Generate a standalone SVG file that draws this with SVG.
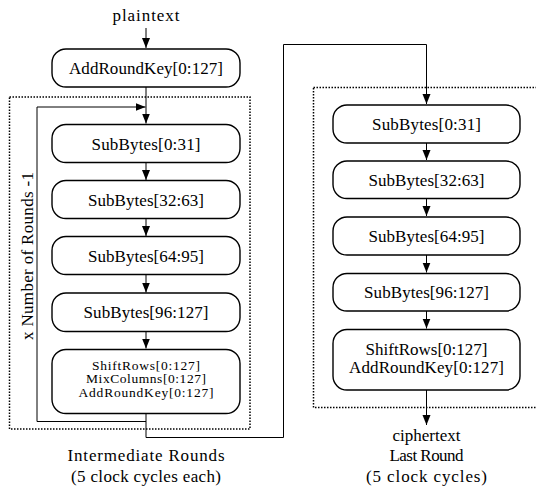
<svg xmlns="http://www.w3.org/2000/svg" width="536" height="487" viewBox="0 0 536 487">
<style>
.t{font-family:"Liberation Serif","Times New Roman",serif;font-size:17px;fill:#000;text-anchor:middle}
.s{font-size:13.5px}
.box{fill:#fff;stroke:#000;stroke-width:1.4}
.dot{fill:none;stroke:#000;stroke-width:1.5;stroke-dasharray:1.5 1.5}
.c{fill:none;stroke:#000;stroke-width:1}
</style>
<defs>
<marker id="ah" markerUnits="userSpaceOnUse" markerWidth="10" markerHeight="10" viewBox="0 0 10 10" refX="10" refY="5" orient="auto">
<path d="M0,1 L10,5 L0,9 Z" fill="#000"/>
</marker>
</defs>
<rect class="dot" x="9.5" y="97" width="240.5" height="332"/>
<rect class="dot" x="313.5" y="87.5" width="230" height="320"/>
<g id="connectors">
<path class="c" d="M146,28 V48" marker-end="url(#ah)"/>
<path class="c" d="M146,87 V123.5" marker-end="url(#ah)"/>
<path class="c" d="M146,421.5 H37 V107 H145.5" marker-end="url(#ah)"/>
<path class="c" d="M146,163 V180" marker-end="url(#ah)"/>
<path class="c" d="M146,219 V236" marker-end="url(#ah)"/>
<path class="c" d="M146,275 V292.5" marker-end="url(#ah)"/>
<path class="c" d="M146,332 V348.5" marker-end="url(#ah)"/>
<path class="c" d="M146,413.5 V437.5 H283.5 V44.5 H426.5 V104" marker-end="url(#ah)"/>
<path class="c" d="M426.5,143 V160" marker-end="url(#ah)"/>
<path class="c" d="M426.5,199 V216" marker-end="url(#ah)"/>
<path class="c" d="M426.5,255 V272.5" marker-end="url(#ah)"/>
<path class="c" d="M426.5,311 V328.5" marker-end="url(#ah)"/>
<path class="c" d="M426.5,390 V425" marker-end="url(#ah)"/>
</g>
<g id="plaintext"><text class="t" x="146" y="21" textLength="67">plaintext</text></g>
<g id="ark0"><rect class="box" x="52" y="49" width="188" height="38" rx="14"/><text class="t" x="146" y="74" textLength="154">AddRoundKey[0:127]</text></g>
<g id="l1"><rect class="box" x="52" y="124.5" width="188" height="38" rx="14"/><text class="t" x="146" y="149.5" textLength="109">SubBytes[0:31]</text></g>
<g id="l2"><rect class="box" x="52" y="180.5" width="188" height="38" rx="14"/><text class="t" x="146" y="205.5" textLength="116">SubBytes[32:63]</text></g>
<g id="l3"><rect class="box" x="52" y="236.5" width="188" height="38" rx="14"/><text class="t" x="146" y="261.5" textLength="116">SubBytes[64:95]</text></g>
<g id="l4"><rect class="box" x="52" y="293" width="188" height="38.5" rx="14"/><text class="t" x="146" y="318" textLength="125">SubBytes[96:127]</text></g>
<g id="l5"><rect class="box" x="52" y="349.5" width="188" height="64" rx="14"/><text class="t s" x="146" y="369.5" textLength="108">ShiftRows[0:127]</text><text class="t s" x="146" y="383" textLength="120">MixColumns[0:127]</text><text class="t s" x="146" y="396.5" textLength="135">AddRoundKey[0:127]</text></g>
<g id="rounds"><text class="t" transform="translate(32.5,256) rotate(-90)" textLength="168">x Number of Rounds -1</text></g>
<g id="cap1"><text class="t" x="146" y="460.5" textLength="157">Intermediate Rounds</text><text class="t" x="146" y="482" textLength="150">(5 clock cycles each)</text></g>
<g id="r1"><rect class="box" x="333" y="105" width="187" height="38" rx="14"/><text class="t" x="426.5" y="130" textLength="109">SubBytes[0:31]</text></g>
<g id="r2"><rect class="box" x="333" y="161" width="187" height="37.5" rx="14"/><text class="t" x="426.5" y="185.5" textLength="116">SubBytes[32:63]</text></g>
<g id="r3"><rect class="box" x="333" y="217" width="187" height="38" rx="14"/><text class="t" x="426.5" y="242" textLength="116">SubBytes[64:95]</text></g>
<g id="r4"><rect class="box" x="333" y="273.5" width="187" height="37.5" rx="14"/><text class="t" x="426.5" y="298" textLength="125">SubBytes[96:127]</text></g>
<g id="r5"><rect class="box" x="333" y="329.5" width="187" height="60.5" rx="14"/><text class="t" x="426.5" y="354.5" textLength="122">ShiftRows[0:127]</text><text class="t" x="426.5" y="373" textLength="155">AddRoundKey[0:127]</text></g>
<g id="cap2"><text class="t" x="426.5" y="440.5" textLength="68">ciphertext</text><text class="t" x="426.5" y="460.5" textLength="74">Last Round</text><text class="t" x="426.5" y="482" textLength="121">(5 clock cycles)</text></g>
</svg>
